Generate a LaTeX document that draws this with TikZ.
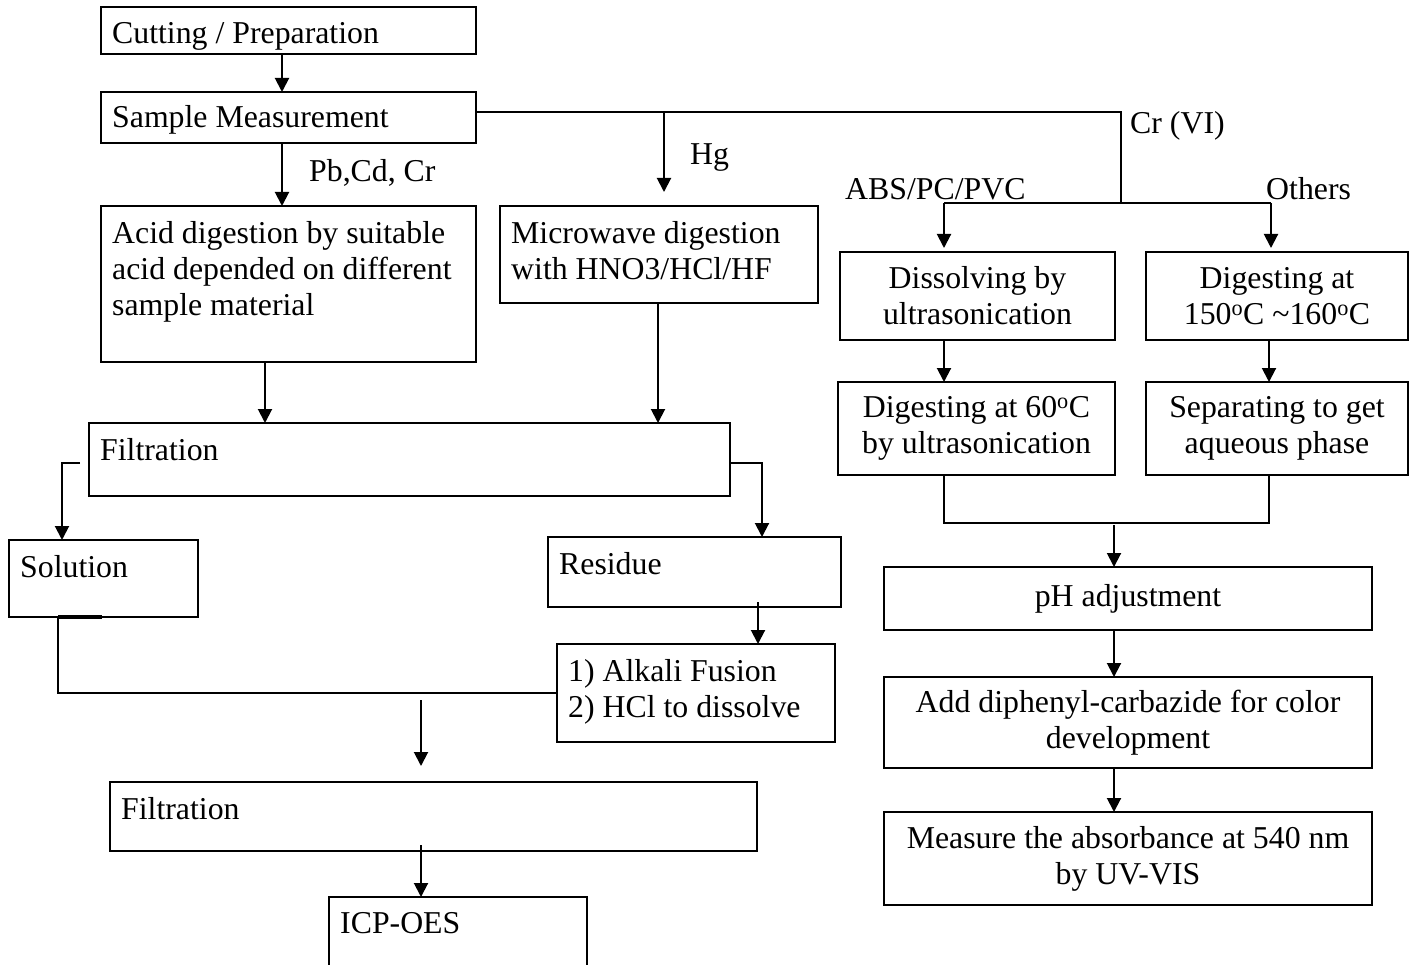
\documentclass[tikz,border=0pt]{standalone}
\usepackage{fontspec}
\setmainfont{Liberation Serif}
\usetikzlibrary{arrows.meta}

\tikzset{
  box/.style={draw, line width=2pt, anchor=north west, inner sep=0pt, outer sep=0pt},
  cbox/.style={box, align=center},
  txt/.style={anchor=north west, align=left, inner xsep=11pt, inner ysep=#1},
  txt/.default=15pt,
  tag/.style={anchor=west, inner sep=0pt},
  ln/.style={line width=2pt},
  arr/.style={ln, -{Triangle[length=14pt,width=14pt]}},
}

\begin{document}
\begin{tikzpicture}[x=1pt,y=-1pt,font=\fontsize{31.8}{36}\selectfont]
				\useasboundingbox (0,0) rectangle (1413,965);
				\clip (0,0) rectangle (1413,965);
				% left column
				\node[box, minimum width=375pt, minimum height=47pt, label={[txt]north west:{Cutting / Preparation}}] (cut) at (101,7) {};
				\node[box, minimum width=375pt, minimum height=51pt, label={[txt=13pt]north west:{Sample Measurement}}] (samp) at (101,92) {};
				\node[box, minimum width=375pt, minimum height=156pt, label={[txt]north west:{Acid digestion by suitable\\acid depended on different\\sample material}}] (acid) at (101,206) {};
				\node[box, minimum width=318pt, minimum height=97pt, label={[txt]north west:{Microwave digestion\\with HNO3/HCl/HF}}] (micro) at (500,206) {};
				\node[box, minimum width=641pt, minimum height=73pt, label={[txt]north west:{Filtration}}] (filt) at (89,423) {};
				\node[box, minimum width=189pt, minimum height=77pt, label={[txt]north west:{Solution}}] (sol) at (9,540) {};
				\node[box, minimum width=293pt, minimum height=70pt, label={[txt]north west:{Residue}}] (res) at (548,537) {};
				\node[box, minimum width=278pt, minimum height=98pt, label={[txt]north west:{1) Alkali Fusion\\2) HCl to dissolve}}] (alk) at (557,644) {};
				\node[box, minimum width=647pt, minimum height=69pt, label={[txt]north west:{Filtration}}] (filt2) at (110,782) {};
				\node[box, minimum width=258pt, minimum height=120pt, label={[txt]north west:{ICP-OES}}] (icp) at (329,897) {};
				% right column
				\node[cbox, minimum width=275pt, minimum height=88pt] (diss) at (840,252) {Dissolving by\\ultrasonication};
				\node[cbox, minimum width=262pt, minimum height=88pt] (dig150) at (1146,252) {Digesting at\\150\textsuperscript{o}C \textasciitilde160\textsuperscript{o}C};
				\node[cbox, minimum width=277pt, minimum height=93pt] (dig60) at (838,382) {Digesting at 60\textsuperscript{o}C\\by ultrasonication};
				\node[cbox, minimum width=262pt, minimum height=93pt] (sep) at (1146,382) {Separating to get\\aqueous phase};
				\node[cbox, minimum width=488pt, minimum height=63pt] (ph) at (884,567) {pH adjustment};
				\node[cbox, minimum width=488pt, minimum height=91pt] (add) at (884,677) {Add diphenyl-carbazide for color\\development};
				\node[cbox, minimum width=488pt, minimum height=93pt] (meas) at (884,812) {Measure the absorbance at 540 nm\\by UV-VIS};
				% branch labels
				\node[tag] (pb) at (309,173) {Pb,Cd, Cr};
				\node[tag] (hg) at (690,158) {Hg};
				\node[tag] (cr) at (1130,126) {Cr (VI)};
				\node[tag] (abs) at (845,189) {ABS/PC/PVC};
				\node[tag] (oth) at (1266,189) {Others};
				% connectors
				\coordinate (crtop) at (1121,112);
				\coordinate (crbot) at (1121,203);
				\coordinate (hgx) at (664,112);
				\coordinate (absx) at (944,203);
				\coordinate (othx) at (1271,203);
				\coordinate (sepx) at (1269,0);
				\coordinate (phx) at (1114,525);
				\coordinate (solx) at (62,0);
				\coordinate (resx) at (762,0);
				\coordinate (alkx) at (758,0);
				\coordinate (midx) at (421,700);
				\draw[arr] (cut.south -| 282,0) -- (samp.north -| 282,0);
				\draw[arr] (samp.south -| 282,0) -- (acid.north -| 282,0);
				\draw[ln] (samp.east |- crtop) -- (crtop) -- (crbot);
				\draw[ln] (absx) -- (othx);
				\draw[arr, shorten >=14pt] (hgx) -- (hgx |- micro.north);
				\draw[arr, shorten >=4pt] (absx) -- (absx |- diss.north);
				\draw[arr, shorten >=4pt] (othx) -- (othx |- dig150.north);
				\draw[arr] (absx |- diss.south) -- (absx |- dig60.north);
				\draw[arr] (sepx |- dig150.south) -- (sepx |- sep.north);
				\draw[ln] (absx |- dig60.south) -- ++(0,48) -| (sepx |- sep.south);
				\draw[arr] (phx) -- (phx |- ph.north);
				\draw[arr] (phx |- ph.south) -- (phx |- add.north);
				\draw[arr] (phx |- add.south) -- (phx |- meas.north);
				\draw[arr] (acid.south -| 265,0) -- (filt.north -| 265,0);
				\draw[arr] (micro.south -| 658,0) -- (filt.north -| 658,0);
				\draw[arr] ([xshift=-9pt,yshift=-3.5pt]filt.west) -| (solx |- sol.north);
				\draw[arr] ([yshift=-3.5pt]filt.east) -| (resx |- res.north);
				\draw[arr, shorten <=-5pt] (alkx |- res.south) -- (alkx |- alk.north);
				\draw[line width=4pt] (sol.south -| 58,0) -- (sol.south -| 102,0);
				\draw[ln] (sol.south -| 58,0) |- (alk.west);
				\draw[arr, shorten >=16pt] (midx) -- (midx |- filt2.north);
				\draw[arr, shorten <=-6pt] (midx |- filt2.south) -- (midx |- icp.north);
			\end{tikzpicture}
\end{document}
